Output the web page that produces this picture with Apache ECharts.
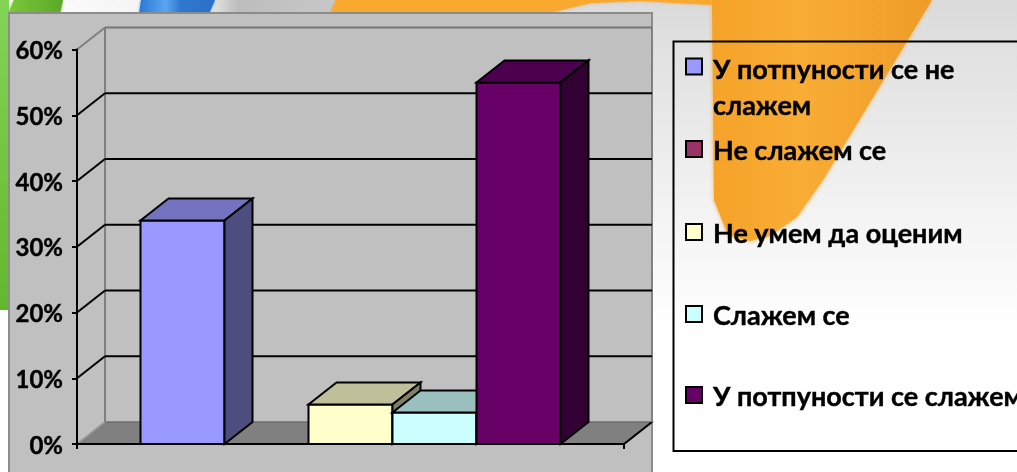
<!DOCTYPE html>
<html><head><meta charset="utf-8">
<style>html,body{margin:0;padding:0;background:#fff}#c{width:1017px;height:472px}</style>
<script src="https://cdn.jsdelivr.net/npm/echarts@6/dist/echarts.min.js"></script>
</head><body><div id="c"></div>
<script>
const categories = [''];
const seriesNames = ['У потпуности се не слажем','Не слажем се','Не умем да оценим','Слажем се','У потпуности се слажем'];
const seriesValues = [34, 0, 6, 4.8, 55];
const tickValues = [0,10,20,30,40,50,60];

const seriesColors = ['#9999FF','#993366','#FFFFCC','#CCFFFF','#660066'];
const topColors = ['#7373BF','#73264D','#BFBF99','#99BFBF','#4D004D'];
const sideColors = ['#4D4D80','#4D1A33','#808066','#668080','#330033'];
const legendLines = [['У потпуности се не','слажем'],['Не слажем се'],['Не умем да оценим'],['Слажем се'],['У потпуности се слажем']];
const legendIconCentres = [66.5,149,232,314,395];
const FONT = 'Lato';
const DX = 28, DY = 22, BAR_RATIO = 84/547;

function poly(points, fill, stroke, lw){
  return {type:'polygon', shape:{points}, style:{fill, stroke, lineWidth:lw, lineJoin:'miter'}};
}
function line(a,b,stroke,lw){
  return {type:'line', shape:{x1:a[0],y1:a[1],x2:b[0],y2:b[1]}, style:{stroke,lineWidth:lw,fill:null}};
}
function renderWall(params, api){
  const v = api.value(0), cs = params.coordSys;
  const y = api.coord([0,v])[1], l = cs.x, r = cs.x+cs.width;
  const kids = [];
  const grey = '#808080', dark = '#000';
  if(v===0){
    kids.push(poly([[l,y],[l+DX,y-DY],[r+DX,y-DY],[r,y]],'#808080','#6e6e6e',1.5));
    kids.push(line([l,y],[l+DX,y-DY],'#a0a0a0',1.5));
    kids.push(line([r,y],[r+DX,y-DY],dark,2));
    const top = api.coord([0,tickValues[tickValues.length-1]])[1];
    kids.push(line([l+DX,y-DY],[l+DX,top-DY],grey,2));
    kids.push(line([r+DX,y-DY],[r+DX,top-DY],grey,2));
  } else if(v===tickValues[tickValues.length-1]){
    kids.push(line([l,y],[l+DX,y-DY],grey,2));
    kids.push(line([l+DX,y-DY],[r+DX,y-DY],'#757575',2));
  } else {
    kids.push(line([l,y],[l+DX,y-DY],dark,2));
    kids.push(line([l+DX,y-DY],[r+DX,y-DY],dark,2));
  }
  return {type:'group',children:kids};
}
function renderBar(i){
  return function(params, api){
    const v = api.value(1);
    if(!v) return null;
    const band = api.size([1,0])[0], w = band*BAR_RATIO;
    const c = api.coord([0,v]), b = api.coord([0,0]);
    const x0 = c[0]+(i-seriesValues.length/2)*w, x1 = x0+w, yt = c[1], yb = b[1];
    return {type:'group',children:[
      poly([[x0,yb],[x1,yb],[x1,yt],[x0,yt]],seriesColors[i],'#000',2),
      poly([[x0,yt],[x1,yt],[x1+DX,yt-DY],[x0+DX,yt-DY]],topColors[i],'#000',2),
      poly([[x1,yb],[x1+DX,yb-DY],[x1+DX,yt-DY],[x1,yt]],sideColors[i],'#000',2)
    ]};
  };
}

const bg = [
  {type:'rect',shape:{x:0,y:0,width:1017,height:472},style:{fill:{type:'linear',x:0,y:0,x2:0,y2:1,colorStops:[{offset:0,color:'#dadada'},{offset:0.12,color:'#e2e2e2'},{offset:0.45,color:'#f3f3f3'},{offset:0.7,color:'#ffffff'},{offset:1,color:'#ffffff'}]}}},
  {type:'rect',shape:{x:0,y:0,width:340,height:13},style:{fill:{type:'linear',x:0,y:0,x2:1,y2:0,colorStops:[{offset:0,color:'#ffffff'},{offset:0.6,color:'#f0f0f0'},{offset:0.7,color:'#bdbdbd'},{offset:1,color:'#c8c8c8'}]}}},
  {type:'rect',shape:{x:0,y:0,width:9,height:310},style:{fill:{type:'linear',x:0,y:0,x2:0,y2:1,colorStops:[{offset:0,color:'#84d456'},{offset:1,color:'#62b82c'}]}}},
  {type:'polygon',shape:{points:[[14,0],[63,0],[60,14],[8,14]]},style:{fill:{type:'linear',x:0,y:0,x2:1,y2:0,colorStops:[{offset:0,color:'#7cc83a'},{offset:1,color:'#5aa828'}]},shadowBlur:3,shadowColor:'#70c040'}},
  {type:'polygon',shape:{points:[[141,0],[215,0],[209,14],[139,14]]},style:{fill:{type:'linear',x:0,y:0,x2:1,y2:0,colorStops:[{offset:0,color:'#2a78d8'},{offset:0.35,color:'#5aa5f0'},{offset:0.55,color:'#2f78d0'},{offset:1,color:'#2a70c8'}]},shadowBlur:3,shadowColor:'#5a9ae0'}},
  {type:'polygon',shape:{points:[[330,14],[336,0],[716,0],[716,5],[640,1],[590,3],[545,14]]},style:{fill:'#f9a92e',shadowBlur:3,shadowColor:'#f0a030'}},
  {type:'polygon',shape:{points:[[712,0],[932,0],[823,180],[797,217],[770,236],[750,241],[728,235],[714,200]]},style:{fill:{type:'linear',x:0,y:0,x2:1,y2:0,colorStops:[{offset:0,color:'#f5a228'},{offset:0.4,color:'#f9ad35'},{offset:1,color:'#ee9c28'}]},shadowBlur:4,shadowColor:'#f5b050'}},
  {type:'rect',shape:{x:9,y:13,width:643,height:470},style:{fill:'#c0c0c0',stroke:'#8c8c8c',lineWidth:2}},
  {type:'rect',shape:{x:673.5,y:41.5,width:400,height:409.5},style:{fill:'transparent',stroke:'#000',lineWidth:2}}
].map((e)=>Object.assign(e,{z:-10,silent:true}));

const legendText = {fontFamily:FONT,fontWeight:700,fontSize:27,color:'#000',lineHeight:36,textBorderColor:'#000',textBorderWidth:0.4};
const legendOpts = seriesNames.map((n,i)=>{
  const two = legendLines[i].length>1;
  const pad = two ? 43 : 5;
  const h = legendLines[i].length*36+pad;
  return {
    data:[n], orient:'vertical', left:685, top:legendIconCentres[i]-h/2, padding:0,
    itemWidth:16, itemHeight:16, selectedMode:false, icon:'rect',
    itemStyle:{borderColor:'#000',borderWidth:2},
    formatter:()=>legendLines[i].map(t=>'{a|'+t+'}').join('\n'),
    textStyle:Object.assign({},legendText,{padding:[pad,0,0,6],rich:{a:legendText}})
  };
});

const chart = echarts.init(document.getElementById('c'),null,{renderer:'canvas'});
chart.setOption({
  animation:false,
  graphic:{elements:bg},
  grid:{left:77,right:393,top:49.5,bottom:28,containLabel:false},
  legend:legendOpts,
  xAxis:{type:'category',data:categories,z:5,
    axisLine:{lineStyle:{color:'#000',width:2}},
    axisTick:{show:true,length:5,lineStyle:{color:'#000',width:2}},
    axisLabel:{show:false},splitLine:{show:false}},
  yAxis:{type:'value',min:0,max:60,interval:10,z:5,
    axisLine:{show:true,lineStyle:{color:'#000',width:2}},
    axisTick:{show:true,length:5,lineStyle:{color:'#000',width:2}},
    splitLine:{show:false},
    axisLabel:{formatter:(v)=>'{a|'+v+'%}',margin:14,
      rich:{a:{fontFamily:FONT,fontWeight:700,fontSize:24,color:'#000',padding:[4,0,0,0],textBorderColor:'#000',textBorderWidth:0.4}}}},
  series:[
    {type:'custom',name:'wall',z:1,clip:false,silent:true,data:tickValues.map(v=>[v]),encode:{y:0},renderItem:renderWall},
    ...seriesNames.map((n,i)=>({type:'custom',name:n,z:2+i,clip:false,silent:true,
      itemStyle:{color:seriesColors[i]},
      data:[[0,seriesValues[i]]],encode:{x:0,y:1},renderItem:renderBar(i)}))
  ]
});
</script></body></html>
